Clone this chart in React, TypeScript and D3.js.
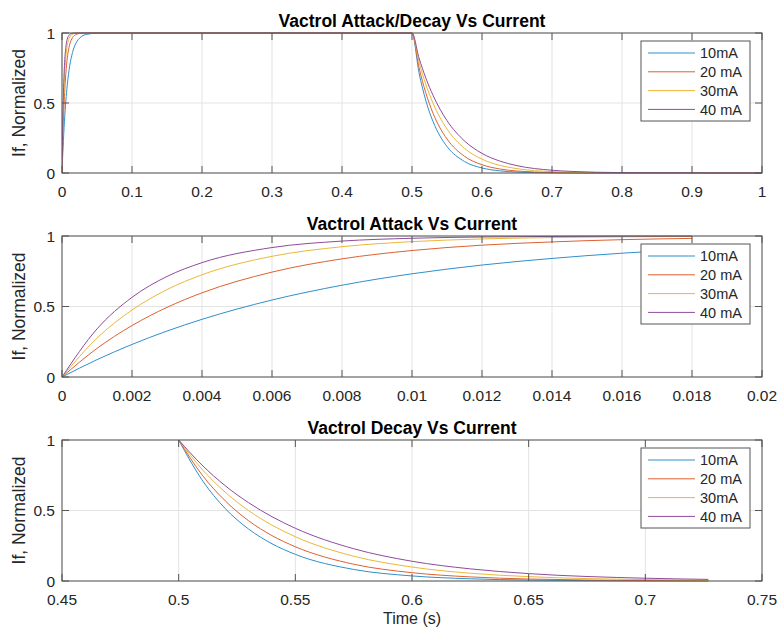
import React from "react";
import * as d3 from "d3";

// ---------- DATA ----------
const seriesNames = ["10mA", "20 mA", "30mA", "40 mA"];
const seriesColors = ["#2f8fcc", "#dc6232", "#ecb73a", "#8e4c9c"];

// Attack: time (s) and normalized If per series
const attackTimes = [0, 0.001, 0.002, 0.003, 0.004, 0.006, 0.008, 0.01, 0.012, 0.014, 0.016, 0.018];
const attack10 = [0, 0.123, 0.231, 0.326, 0.409, 0.546, 0.651, 0.732, 0.794, 0.841, 0.878, 0.906];
const attack20 = [0, 0.203, 0.365, 0.494, 0.597, 0.744, 0.838, 0.897, 0.935, 0.958, 0.974, 0.983];
const attack30 = [0, 0.276, 0.475, 0.62, 0.725, 0.856, 0.924, 0.96, 0.979, 0.989, 0.994, 0.997];
const attack40 = [0, 0.341, 0.565, 0.713, 0.811, 0.918, 0.964, 0.984, 0.993, 0.997, 0.999, 0.9995];

// Plateau between attack and release (full-cycle plot)
const plateauTimes = [0.025, 0.035, 0.05, 0.5];
const plateau10 = [0.963, 0.99, 0.9986, 1];
const plateau20 = [0.9966, 0.9996, 1, 1];
const plateau30 = [0.9997, 1, 1, 1];
const plateau40 = [1, 1, 1, 1];

// Decay: time (s) and normalized If per series
const decayTimes = [0.5, 0.51, 0.52, 0.53, 0.54, 0.55, 0.575, 0.6, 0.625, 0.65, 0.7, 0.727];
const decay10 = [1, 0.717, 0.513, 0.368, 0.264, 0.189, 0.082, 0.036, 0.0155, 0.0067, 0.0013, 0.0005];
const decay20 = [1, 0.753, 0.568, 0.427, 0.322, 0.243, 0.119, 0.059, 0.029, 0.014, 0.0035, 0.0016];
const decay30 = [1, 0.793, 0.629, 0.499, 0.396, 0.314, 0.176, 0.099, 0.055, 0.031, 0.0098, 0.0052];
const decay40 = [1, 0.822, 0.675, 0.555, 0.456, 0.374, 0.229, 0.14, 0.086, 0.0525, 0.0197, 0.0115];

// Tail of the full-cycle plot
const tailTimes = [0.8, 1.0];
const tail10 = [0, 0];
const tail20 = [0.0002, 0];
const tail30 = [0.001, 0];
const tail40 = [0.003, 0.0002];

// Axis ticks
const yTicks = [0, 0.5, 1];
const yTickLabels = ["0", "0.5", "1"];
const x1Ticks = [0, 0.1, 0.2, 0.3, 0.4, 0.5, 0.6, 0.7, 0.8, 0.9, 1];
const x1TickLabels = ["0", "0.1", "0.2", "0.3", "0.4", "0.5", "0.6", "0.7", "0.8", "0.9", "1"];
const x2Ticks = [0, 0.002, 0.004, 0.006, 0.008, 0.01, 0.012, 0.014, 0.016, 0.018, 0.02];
const x2TickLabels = ["0", "0.002", "0.004", "0.006", "0.008", "0.01", "0.012", "0.014", "0.016", "0.018", "0.02"];
const x3Ticks = [0.45, 0.5, 0.55, 0.6, 0.65, 0.7, 0.75];
const x3TickLabels = ["0.45", "0.5", "0.55", "0.6", "0.65", "0.7", "0.75"];

const titles = ["Vactrol Attack/Decay Vs Current", "Vactrol Attack Vs Current", "Vactrol Decay Vs Current"];
const yLabel = "If, Normalized";
const xLabel = "Time (s)";

// ---------- BUILD ----------
type Pt = [number, number];
const zip = (t: number[], v: number[]): Pt[] => t.map((x, i) => [x, v[i]] as Pt);

const attackSets = [attack10, attack20, attack30, attack40];
const plateauSets = [plateau10, plateau20, plateau30, plateau40];
const decaySets = [decay10, decay20, decay30, decay40];
const tailSets = [tail10, tail20, tail30, tail40];

const fullSeries = attackSets.map((a, i) => [
  ...zip(attackTimes, a),
  ...zip(plateauTimes, plateauSets[i]),
  ...zip(decayTimes, decaySets[i]).slice(1),
  ...zip(tailTimes, tailSets[i]),
]);
const attackSeries = attackSets.map((a) => zip(attackTimes, a));
const decaySeries = decaySets.map((d) => zip(decayTimes, d));

const FONT = "'Liberation Sans', Arial, Helvetica, sans-serif";
const LEFT = 62;
const RIGHT = 762;
const AX = "#555555";
const TXT = "#262626";

interface PanelProps {
  top: number;
  bottom: number;
  domain: [number, number];
  ticks: number[];
  tickLabels: string[];
  title: string;
  series: Pt[][];
  id: string;
}

function Panel({ top, bottom, domain, ticks, tickLabels, title, series, id }: PanelProps) {
  const x = d3.scaleLinear().domain(domain).range([LEFT, RIGHT]);
  const y = d3.scaleLinear().domain([0, 1]).range([bottom, top]);
  const line = d3
    .line<Pt>()
    .x((d) => x(d[0]))
    .y((d) => y(d[1]))
    .curve(d3.curveMonotoneX);
  const tickLen = 7;
  const lgTop = top + 8;
  const lgLeft = 641;
  const lgRight = 750;
  return (
    <g>
      <defs>
        <clipPath id={id}>
          <rect x={LEFT} y={top - 1} width={RIGHT - LEFT} height={bottom - top + 2} />
        </clipPath>
      </defs>
      {/* grid */}
      {ticks.map((t, i) => (
        <line key={"gx" + i} x1={x(t)} x2={x(t)} y1={top} y2={bottom} stroke="#e3e3e3" strokeWidth={1} />
      ))}
      {yTicks.map((t, i) => (
        <line key={"gy" + i} x1={LEFT} x2={RIGHT} y1={y(t)} y2={y(t)} stroke="#e3e3e3" strokeWidth={1} />
      ))}
      {/* lines */}
      <g clipPath={`url(#${id})`}>
        {series.map((s, i) => (
          <path key={"s" + i} d={line(s) || ""} fill="none" stroke={seriesColors[i]} strokeWidth={1} />
        ))}
      </g>
      {/* box */}
      <rect x={LEFT} y={top} width={RIGHT - LEFT} height={bottom - top} fill="none" stroke={AX} strokeWidth={1} />
      {/* ticks */}
      {ticks.map((t, i) => (
        <g key={"tx" + i}>
          <line x1={x(t)} x2={x(t)} y1={bottom} y2={bottom - tickLen} stroke={AX} />
          <line x1={x(t)} x2={x(t)} y1={top} y2={top + tickLen} stroke={AX} />
          <text x={x(t)} y={bottom + 23.5} textAnchor="middle" fontSize={15.5} fill={TXT} fontFamily={FONT}>
            {tickLabels[i]}
          </text>
        </g>
      ))}
      {yTicks.map((t, i) => (
        <g key={"ty" + i}>
          <line x1={LEFT} x2={LEFT + tickLen} y1={y(t)} y2={y(t)} stroke={AX} />
          <line x1={RIGHT} x2={RIGHT - tickLen} y1={y(t)} y2={y(t)} stroke={AX} />
          <text x={LEFT - 7} y={y(t) + 5.5} textAnchor="end" fontSize={15.5} fill={TXT} fontFamily={FONT}>
            {yTickLabels[i]}
          </text>
        </g>
      ))}
      {/* title */}
      <text x={(LEFT + RIGHT) / 2} y={top - 6} textAnchor="middle" fontSize={17.5} fontWeight="bold" fill="#000" fontFamily={FONT}>
        {title}
      </text>
      {/* y label */}
      <text
        transform={`translate(25,${(top + bottom) / 2}) rotate(-90)`}
        textAnchor="middle"
        fontSize={17.5}
        fill={TXT}
        fontFamily={FONT}
      >
        {yLabel}
      </text>
      {/* legend */}
      <rect x={lgLeft} y={lgTop} width={lgRight - lgLeft} height={80} fill="#fff" stroke={AX} strokeWidth={1} />
      {seriesNames.map((n, i) => {
        const ry = lgTop + 12 + i * 18.8;
        return (
          <g key={"lg" + i}>
            <line x1={648} x2={695} y1={ry} y2={ry} stroke={seriesColors[i]} strokeWidth={1} />
            <text x={700} y={ry + 5.2} fontSize={14.5} fill={TXT} fontFamily={FONT}>
              {n}
            </text>
          </g>
        );
      })}
    </g>
  );
}

export default function App() {
  return (
    <svg
      width={781}
      height={628}
      style={{ position: "absolute", left: 0, top: 0, background: "#fff" }}
      xmlns="http://www.w3.org/2000/svg"
    >
      <rect width={781} height={628} fill="#fff" />
      <Panel id="c1" top={33} bottom={173} domain={[0, 1]} ticks={x1Ticks} tickLabels={x1TickLabels} title={titles[0]} series={fullSeries} />
      <Panel id="c2" top={236} bottom={377} domain={[0, 0.02]} ticks={x2Ticks} tickLabels={x2TickLabels} title={titles[1]} series={attackSeries} />
      <Panel id="c3" top={440} bottom={581} domain={[0.45, 0.75]} ticks={x3Ticks} tickLabels={x3TickLabels} title={titles[2]} series={decaySeries} />
      <text x={(LEFT + RIGHT) / 2} y={623.5} textAnchor="middle" fontSize={16} fill={TXT} fontFamily={FONT}>
        {xLabel}
      </text>
    </svg>
  );
}
